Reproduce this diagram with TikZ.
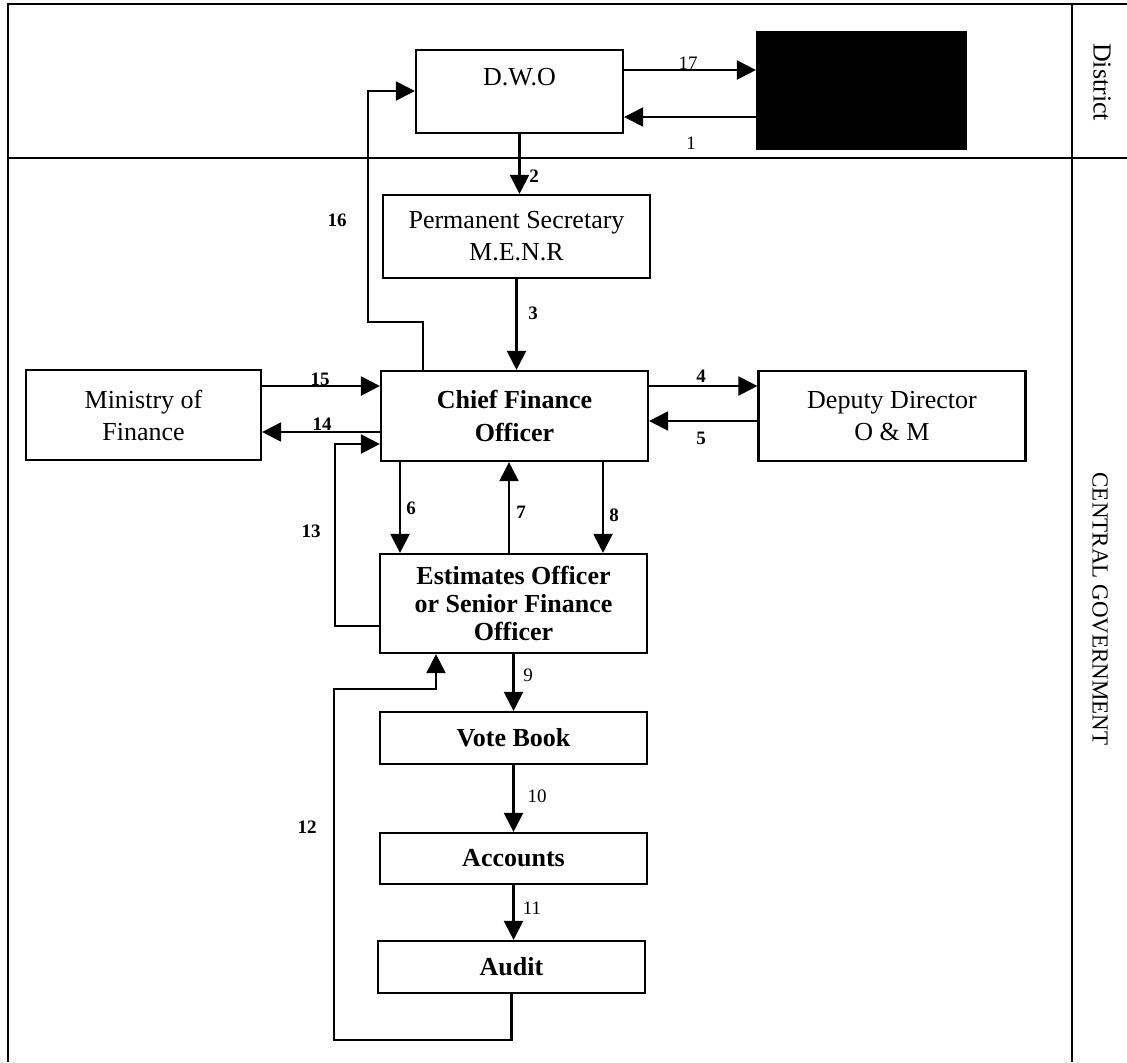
\documentclass[tikz,border=0pt]{standalone}
\usepackage{fontspec}
\setmainfont{Liberation Serif}
\usetikzlibrary{arrows.meta}

\begin{document}
\begin{tikzpicture}[x=0.5pt,y=-0.5pt,line width=1.1pt,>={Triangle[length=9.5pt,width=9.5pt]},
    font=\fontsize{13}{16}\selectfont,
    box/.style={draw,line width=1.1pt,minimum width=133.5pt,minimum height=#1,inner sep=0pt,align=center},
    box/.default=41.5pt,
    num/.style={font=\fontsize{9.5}{11}\selectfont\bfseries,inner sep=1pt},
    numr/.style={font=\fontsize{9.5}{11}\selectfont,inner sep=1pt}]
        \useasboundingbox (0,0) rectangle (1127,1062);
        % frame and rows
        \draw (8,1062) -- (8,4) -- (1127,4);
        \draw (8,158) -- (1127,158);
        \draw (1072,4) -- (1072,1062);
        \node[rotate=-90] (district) at (1102,82) {District};
        \node[rotate=-90,font=\fontsize{11.5}{14}\selectfont] (central) at (1100,609) {CENTRAL GOVERNMENT};
        % boxes
        \node[box, minimum width=103.5pt, label={[yshift=7.25pt]center:D.W.O}] (dwo) at (519.5,91.5) {};
        \node[draw,fill=black,minimum width=104.5pt,minimum height=58.5pt] (redacted) at (861.5,90.5) {};
        \node[box] (ps) at (516.5,236.5) {Permanent Secretary\\M.E.N.R};
        \node[box=45pt,font=\fontsize{13}{16.5}\selectfont\bfseries] (cfo) at (514.5,416) {Chief Finance\\Officer};
        \node[box=45pt,minimum width=117.5pt] (mof) at (143.5,415) {Ministry of\\Finance};
        \node[box=45pt] (dd) at (892,416) {Deputy Director\\O \& M};
        \node[box=49.5pt,font=\fontsize{13}{14}\selectfont\bfseries] (eo) at (513.5,603.5)
             {Estimates Officer\\or Senior Finance\\Officer};
        \node[box=26pt,font=\fontsize{13}{16}\selectfont\bfseries] (vote) at (513.5,738) {Vote Book};
        \node[box=25.5pt,font=\fontsize{13}{16}\selectfont\bfseries] (acc) at (513.5,858.5) {Accounts};
        \node[box=26pt,font=\fontsize{13}{16}\selectfont\bfseries] (audit) at (511.5,967) {Audit};
        % district links
        \draw[->] (dwo.east |- 0,70) -- (redacted.west |- 0,70);
        \draw[->] (redacted.west |- 0,117) -- (dwo.east |- 0,117);
        \draw[->] (dwo.south) -- (dwo.south |- ps.north);
        \draw[->] (ps.south) -- (ps.south |- cfo.north);
        \draw[->] (cfo.north -| 423,0) -- (423,322) -- (368,322) -- (368,91) -- (dwo.west |- 0,91);
        % side offices
        \draw[->] (mof.east |- 0,386) -- (cfo.west |- 0,386);
        \draw[->] (cfo.west |- 0,432) -- (mof.east |- 0,432);
        \draw[->] (cfo.east |- 0,386) -- (dd.west |- 0,386);
        \draw[->] (dd.west |- 0,421) -- (cfo.east |- 0,421);
        \draw[->] (eo.west |- 0,626) -- (335,626) -- (335,444) -- (cfo.west |- 0,444);
        % down the chain
        \draw[->] (cfo.south -| 400,0) -- (eo.north -| 400,0);
        \draw[->] (eo.north -| 509,0) -- (cfo.south -| 509,0);
        \draw[->] (cfo.south -| 603,0) -- (eo.north -| 603,0);
        \draw[->] (eo.south) -- (eo.south |- vote.north);
        \draw[->] (vote.south) -- (acc.north);
        \draw[->] (acc.south) -- (acc.south |- audit.north);
        \draw[->] (audit.south) -- (audit.south |- 0,1040) -- (334,1040) -- (334,689) -- (436,689)
              -- (eo.south -| 436,0);
        % step numbers
        \foreach \t/\x/\y in {2/534/176,3/533/313,4/701/376,5/701/438,6/411/508,7/521/512,
                              8/614/515,12/307/827,13/311/531,14/322/424,15/320/379,16/337/220}
          \node[num] (n\t) at (\x,\y) {\t};
        \foreach \t/\x/\y in {1/691/143,9/528/675,10/537/796,11/532/908,17/688/63}
          \node[numr] (n\t) at (\x,\y) {\t};
\end{tikzpicture}
\end{document}
